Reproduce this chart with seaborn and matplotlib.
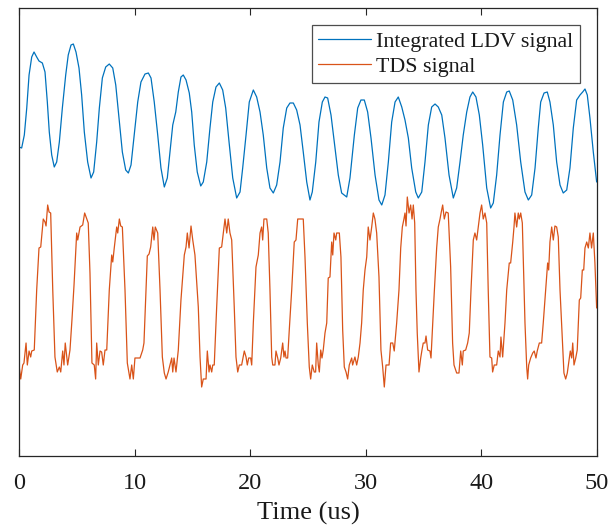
import numpy as np
import pandas as pd
import matplotlib
matplotlib.use("Agg")
import matplotlib.pyplot as plt
import seaborn as sns

# ---- data (time in us, amplitude in arbitrary units) ----
ldv_t = [0.00,0.23,0.46,0.67,0.87,1.10,1.30,1.53,1.73,2.02,2.25,2.45,2.62,2.83,3.05,3.26,3.49,3.75,4.04,4.26,4.50,4.70,4.93,5.19,5.42,5.65,5.94,6.23,6.46,6.72,6.95,7.21,7.50,7.81,8.11,8.37,8.65,8.94,9.23,9.46,9.69,9.97,10.27,10.55,10.90,11.19,11.42,11.70,12.00,12.28,12.57,12.83,13.06,13.30,13.56,13.78,14.01,14.21,14.45,14.73,14.94,15.16,15.42,15.72,15.94,16.24,16.52,16.76,17.04,17.33,17.62,17.88,18.17,18.49,18.83,19.12,19.35,19.64,19.92,20.27,20.56,20.85,21.13,21.43,21.71,22.00,22.29,22.58,22.86,23.16,23.44,23.73,24.02,24.31,24.59,24.89,25.17,25.37,25.67,25.95,26.24,26.47,26.70,26.99,27.27,27.62,27.91,28.35,28.63,29.01,29.30,29.58,29.87,30.16,30.45,30.80,31.14,31.38,31.66,31.95,32.24,32.53,32.81,33.11,33.39,33.68,33.97,34.32,34.54,34.84,35.12,35.41,35.70,35.99,36.27,36.57,36.85,37.20,37.57,37.86,38.15,38.43,38.73,39.01,39.25,39.53,39.82,40.11,40.46,40.80,41.03,41.32,41.61,41.90,42.19,42.41,42.71,43.05,43.40,43.77,44.06,44.35,44.64,44.92,45.13,45.42,45.70,45.93,46.22,46.51,46.80,47.08,47.38,47.66,47.95,48.24,48.53,48.76,48.96,49.16,49.39,49.68,49.97]
ldv_a = [309,308,321,348,381,399,404,399,395,393,384,354,324,301,289,294,314,348,381,401,411,412,404,388,361,324,294,278,284,314,348,378,389,392,388,371,338,304,286,283,291,321,354,374,382,383,378,354,321,288,269,278,304,331,344,364,379,381,376,363,344,311,284,270,274,294,328,354,369,373,366,348,314,278,258,264,288,321,354,366,359,344,321,288,268,263,271,294,328,348,353,353,346,331,304,274,256,264,294,334,354,359,358,341,314,281,263,259,278,321,348,356,356,344,318,281,256,251,261,294,334,354,359,349,336,318,288,264,258,264,294,331,349,352,349,341,318,281,258,268,294,321,344,359,364,359,341,311,268,248,253,281,321,354,364,365,356,331,294,264,256,261,288,328,354,363,364,354,331,294,271,263,266,288,328,356,361,364,367,361,338,304,274]

tds_t = [0.00,0.15,0.32,0.43,0.61,0.72,0.87,1.01,1.10,1.32,1.53,1.73,1.88,2.10,2.25,2.34,2.48,2.60,2.74,2.92,3.11,3.31,3.49,3.61,3.78,3.89,4.00,4.21,4.41,4.58,4.76,4.99,5.08,5.28,5.51,5.68,5.86,5.99,6.14,6.31,6.51,6.63,6.72,6.86,7.01,7.15,7.29,7.44,7.59,7.81,8.02,8.11,8.24,8.45,8.54,8.68,8.80,8.94,9.17,9.37,9.60,9.75,9.89,10.03,10.18,10.47,10.70,10.81,10.96,11.10,11.25,11.39,11.57,11.68,11.79,12.00,12.20,12.40,12.57,12.72,12.91,13.06,13.21,13.30,13.41,13.58,13.78,14.01,14.30,14.45,14.56,14.71,14.88,15.03,15.22,15.51,15.66,15.80,15.94,16.18,16.29,16.44,16.52,16.67,16.76,16.89,17.10,17.33,17.53,17.82,17.97,18.10,18.25,18.40,18.62,18.77,18.92,19.06,19.26,19.49,19.64,19.75,19.87,20.04,20.13,20.27,20.50,20.70,20.85,20.99,21.08,21.19,21.43,21.56,21.71,21.86,21.95,22.14,22.23,22.38,22.49,22.64,22.81,22.92,23.01,23.10,23.24,23.38,23.59,23.81,23.96,24.11,24.59,24.74,24.94,25.11,25.23,25.37,25.54,25.66,25.75,25.89,25.98,26.10,26.21,26.32,26.47,26.62,26.75,26.90,27.05,27.14,27.25,27.40,27.48,27.71,27.85,28.00,28.14,28.29,28.43,28.57,28.78,28.86,29.06,29.21,29.35,29.50,29.64,29.78,29.93,30.08,30.21,30.36,30.51,30.65,30.79,30.94,31.14,31.31,31.46,31.60,31.75,32.01,32.15,32.33,32.46,32.67,32.87,33.02,33.16,33.30,33.39,33.48,33.59,33.74,33.88,34.00,34.11,34.23,34.34,34.45,34.60,34.75,34.86,34.97,35.12,35.21,35.35,35.55,35.64,35.79,35.92,36.13,36.27,36.42,36.53,36.65,36.79,36.94,37.13,37.34,37.51,37.63,37.86,38.06,38.21,38.35,38.43,38.64,38.81,38.95,39.10,39.30,39.44,39.59,39.73,39.88,40.02,40.16,40.31,40.46,40.59,40.74,40.89,40.97,41.11,41.32,41.46,41.61,41.69,41.84,42.04,42.19,42.41,42.53,42.71,42.82,42.90,43.05,43.19,43.28,43.40,43.54,43.77,43.92,44.00,44.09,44.26,44.44,44.57,44.72,44.83,45.01,45.21,45.35,45.56,45.73,45.82,45.93,46.08,46.22,46.36,46.51,46.65,46.80,47.00,47.14,47.29,47.43,47.58,47.69,47.81,47.90,48.01,48.16,48.29,48.47,48.59,48.73,48.85,48.96,49.11,49.25,49.39,49.53,49.68,49.82,49.97]
tds_a = [91,77,91,93,113,91,105,99,105,106,166,208,209,237,234,230,251,244,243,166,99,84,89,84,105,91,113,91,106,136,171,223,216,229,231,243,237,233,183,93,91,77,113,91,105,104,91,106,106,166,201,194,208,229,223,237,230,229,166,93,77,91,77,98,98,98,106,113,159,200,202,209,229,216,229,223,166,99,83,77,84,91,98,84,98,84,106,156,201,209,223,208,230,216,201,149,99,69,77,77,105,84,91,84,91,91,149,208,209,237,223,237,223,216,149,99,84,91,91,105,99,91,98,98,91,133,189,201,223,229,216,237,237,223,166,99,91,91,105,98,91,98,113,99,105,98,98,126,166,214,216,237,237,199,133,89,77,91,84,84,113,91,84,106,98,106,123,133,178,179,214,201,223,216,223,223,199,126,89,84,77,91,98,91,99,91,99,113,133,166,186,199,229,216,229,243,237,223,179,106,89,69,91,91,113,113,105,133,166,208,229,237,243,230,259,243,251,237,251,233,166,123,84,98,106,113,113,120,106,105,98,133,163,208,229,237,244,251,237,244,243,189,113,91,83,83,105,91,105,106,113,123,166,216,223,216,229,243,251,237,243,233,166,99,98,84,91,91,105,99,119,99,133,166,193,193,214,229,243,229,243,237,243,233,133,89,77,91,98,103,105,98,105,113,113,133,166,193,186,214,229,216,230,229,219,166,116,83,77,83,96,105,98,113,91,98,106,156,158,186,186,208,214,208,223,208,223,193,148]

series_names = ["Integrated LDV signal", "TDS signal"]
series_colors = ["#0072BD", "#D95319"]
x_ticks = [0, 10, 20, 30, 40, 50]
x_label = "Time (us)"

assert len(ldv_t) == len(ldv_a), (len(ldv_t), len(ldv_a))
assert len(tds_t) == len(tds_a), (len(tds_t), len(tds_a))

df = pd.concat([
    pd.DataFrame({"t": ldv_t, "a": ldv_a, "s": series_names[0]}),
    pd.DataFrame({"t": tds_t, "a": tds_a, "s": series_names[1]}),
], ignore_index=True)

sns.set_theme(style="white")
plt.rcParams["font.family"] = ["Liberation Serif", "DejaVu Serif"]
plt.rcParams["axes.edgecolor"] = "#262626"
plt.rcParams["axes.linewidth"] = 0.9

fig = plt.figure(figsize=(6.1, 5.25), dpi=100)
ax = fig.add_axes([19 / 610, 1 - 456 / 525, 578 / 610, 448 / 525])

sns.lineplot(data=df, x="t", y="a", hue="s", palette=series_colors,
             estimator=None, sort=False, linewidth=0.9, ax=ax)

ax.set_xlim(0, 50)
ax.set_ylim(0, 448)
ax.set_xticks(x_ticks)
ax.set_xticklabels([str(v) for v in x_ticks])
ax.set_yticks([])
ax.set_ylabel("")
ax.set_xlabel(x_label, fontsize=19, color="#1a1a1a", labelpad=6)
ax.tick_params(axis="x", direction="in", top=True, bottom=True, length=5,
               width=0.8, color="#262626", labelsize=17.5, labelcolor="#1a1a1a", pad=12)
for sp in ax.spines.values():
    sp.set_visible(True)
    sp.set_color("#262626")

leg = ax.legend(loc="upper right", bbox_to_anchor=(0.9706, 0.962), borderaxespad=0,
                fontsize=15.8, frameon=True, fancybox=False, framealpha=1,
                edgecolor="#4d4d4d", handlelength=2.4, handletextpad=0.25,
                borderpad=0.3, labelspacing=0.2)
leg.get_frame().set_linewidth(0.9)
for txt in leg.get_texts():
    txt.set_color("#1a1a1a")

fig.savefig("out.png", dpi=100)
